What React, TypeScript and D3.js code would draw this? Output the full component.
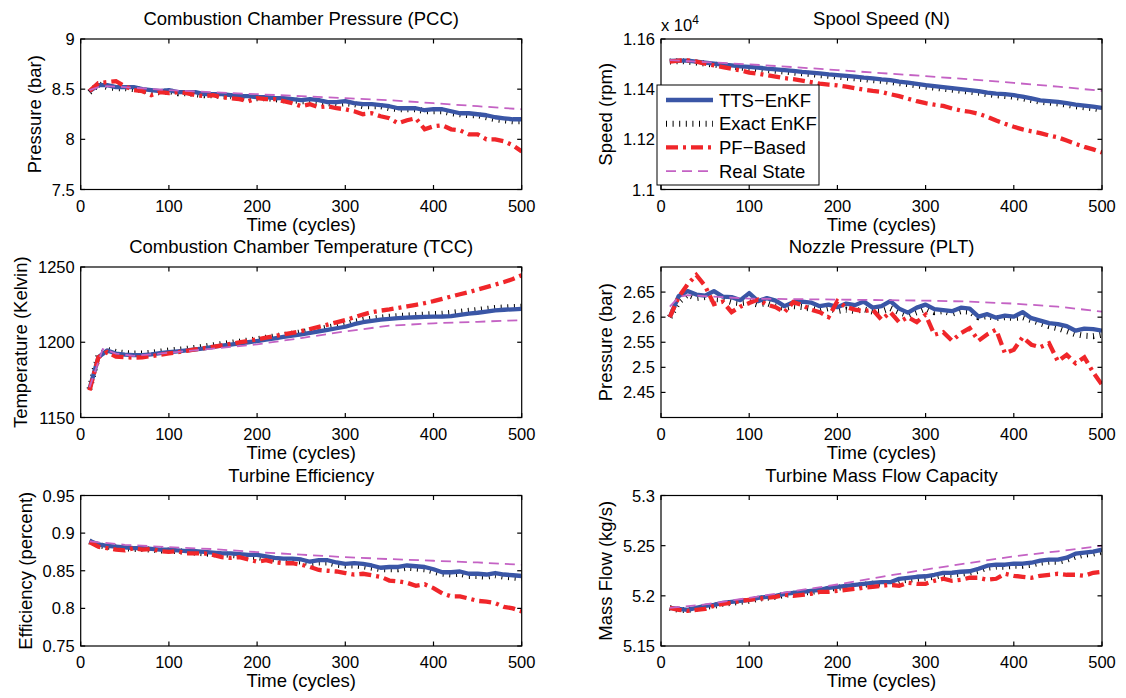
import React, { useRef, useEffect } from 'react';
import * as d3 from 'd3';

// time grid shared by the estimator traces (cycles)
const cycles = [10, 20, 30, 40, 50, 60, 70, 80, 90, 100, 110, 120, 130, 140, 150, 160, 170, 180, 190, 200,
  210, 220, 230, 240, 250, 260, 270, 280, 290, 300, 310, 320, 330, 340, 350, 360, 370, 380, 390, 400,
  410, 420, 430, 440, 450, 460, 470, 480, 490, 500];

const xTicks = [0, 100, 200, 300, 400, 500];
const legendNames = ['TTS\u2212EnKF', 'Exact EnKF', 'PF\u2212Based', 'Real State'];

// Combustion chamber pressure (bar)
const pccTts = [8.48, 8.54, 8.54, 8.52, 8.52, 8.52, 8.50, 8.49, 8.48, 8.49, 8.47, 8.47, 8.47, 8.45, 8.45, 8.45, 8.44, 8.43, 8.43, 8.42,
  8.42, 8.41, 8.41, 8.40, 8.39, 8.40, 8.39, 8.37, 8.37, 8.38, 8.36, 8.35, 8.35, 8.34, 8.33, 8.31, 8.31, 8.31, 8.29, 8.30,
  8.30, 8.28, 8.26, 8.26, 8.25, 8.24, 8.22, 8.21, 8.20, 8.20];
const pccExact = [8.47, 8.55, 8.52, 8.51, 8.51, 8.50, 8.49, 8.47, 8.47, 8.48, 8.46, 8.46, 8.45, 8.44, 8.44, 8.43, 8.43, 8.42, 8.41, 8.41,
  8.41, 8.40, 8.39, 8.39, 8.38, 8.38, 8.37, 8.36, 8.35, 8.36, 8.35, 8.33, 8.33, 8.33, 8.31, 8.30, 8.30, 8.30, 8.28, 8.28,
  8.28, 8.26, 8.25, 8.24, 8.24, 8.22, 8.20, 8.19, 8.18, 8.18];
const pccPf = [8.48, 8.56, 8.57, 8.58, 8.53, 8.49, 8.48, 8.44, 8.47, 8.46, 8.47, 8.46, 8.44, 8.43, 8.44, 8.42, 8.41, 8.40, 8.38, 8.41,
  8.40, 8.40, 8.38, 8.36, 8.33, 8.35, 8.32, 8.33, 8.31, 8.30, 8.28, 8.25, 8.26, 8.23, 8.21, 8.16, 8.19, 8.21, 8.10, 8.13,
  8.14, 8.10, 8.09, 8.05, 8.05, 8.00, 8.00, 7.98, 7.94, 7.88];
const pccRealCycles = [10, 20, 30, 50, 100, 150, 200, 250, 300, 350, 400, 450, 500];
const pccReal = [8.49, 8.52, 8.53, 8.52, 8.49, 8.47, 8.45, 8.43, 8.41, 8.39, 8.36, 8.33, 8.30];

// Spool speed (rpm)
const spoolTts = [11513, 11514, 11514, 11510, 11506, 11502, 11498, 11495, 11491, 11489, 11486, 11482, 11479, 11476, 11473, 11469, 11466, 11463, 11459, 11456,
  11453, 11450, 11446, 11443, 11439, 11436, 11430, 11426, 11421, 11416, 11412, 11408, 11404, 11400, 11396, 11392, 11386, 11382, 11380, 11376,
  11370, 11363, 11355, 11352, 11349, 11344, 11338, 11334, 11330, 11325];
const spoolExact = [11510, 11512, 11510, 11506, 11502, 11498, 11494, 11490, 11486, 11483, 11480, 11476, 11473, 11470, 11466, 11463, 11460, 11456, 11453, 11450,
  11446, 11443, 11440, 11436, 11433, 11429, 11424, 11420, 11415, 11410, 11406, 11402, 11398, 11394, 11390, 11386, 11380, 11376, 11373, 11370,
  11364, 11357, 11350, 11346, 11343, 11338, 11332, 11328, 11324, 11318];
const spoolPf = [11510, 11514, 11515, 11510, 11502, 11495, 11488, 11481, 11475, 11466, 11462, 11456, 11450, 11444, 11440, 11434, 11428, 11422, 11418, 11415,
  11410, 11404, 11398, 11393, 11389, 11380, 11372, 11362, 11352, 11344, 11338, 11333, 11323, 11315, 11310, 11302, 11290, 11275, 11262, 11250,
  11240, 11232, 11225, 11215, 11208, 11195, 11182, 11170, 11160, 11148];
const spoolRealCycles = [10, 50, 100, 150, 200, 250, 300, 350, 400, 450, 500];
const spoolReal = [11516, 11508, 11499, 11488, 11476, 11464, 11452, 11439, 11425, 11410, 11393];

// Combustion chamber temperature (K)
const tccTts = [1169, 1190, 1194.5, 1192.5, 1191.8, 1191.5, 1191.5, 1192, 1192.8, 1193.5, 1194, 1194.6, 1195.2, 1196, 1197, 1197.7, 1198.4, 1199.2, 1200, 1200.8,
  1201.7, 1202.6, 1203.5, 1204.4, 1205.2, 1206.2, 1207.3, 1208.3, 1209.3, 1210.3, 1212, 1213.3, 1214.2, 1215, 1215.6, 1216, 1216.3, 1216.6, 1216.8, 1217,
  1217.1, 1217.4, 1218.2, 1219, 1219.6, 1220.4, 1221.2, 1221.6, 1221.9, 1222.2];
const tccExact = [1169, 1191, 1195, 1193.5, 1192.8, 1192.5, 1192.6, 1193, 1193.8, 1194.5, 1195, 1195.6, 1196.3, 1197.1, 1198, 1198.8, 1199.6, 1200.4, 1201.2, 1202,
  1203, 1203.9, 1204.8, 1205.7, 1206.6, 1207.6, 1208.7, 1209.8, 1210.9, 1212, 1213.6, 1214.8, 1215.7, 1216.4, 1217, 1217.4, 1217.8, 1218.1, 1218.4, 1218.7,
  1219, 1219.5, 1220.2, 1220.9, 1221.5, 1222.2, 1222.8, 1223.1, 1223.4, 1223.6];
const tccPf = [1168, 1190, 1193.5, 1190.5, 1190, 1189.8, 1190, 1190.8, 1191.7, 1192.6, 1193.4, 1194.3, 1195.2, 1196.1, 1197, 1198, 1198.9, 1199.9, 1200.9, 1201.9,
  1203, 1204.1, 1205.2, 1206.3, 1207.4, 1208.8, 1210.2, 1211.7, 1213.2, 1214.7, 1216.6, 1218.4, 1220, 1221, 1221.8, 1222.8, 1223.8, 1224.9, 1226, 1227.3,
  1228.8, 1230.4, 1231.9, 1233.3, 1235, 1236.6, 1238.3, 1240, 1242, 1244.5];
const tccRealCycles = [10, 25, 40, 60, 100, 150, 200, 250, 300, 350, 400, 450, 500];
const tccReal = [1170, 1195.5, 1192.5, 1191, 1193, 1195.8, 1198.6, 1202.8, 1207.2, 1211, 1212.6, 1213.6, 1214.7];

// Nozzle pressure (bar)
const pltTts = [2.600, 2.642, 2.652, 2.645, 2.643, 2.652, 2.641, 2.640, 2.634, 2.648, 2.632, 2.638, 2.633, 2.622, 2.630, 2.631, 2.629, 2.622, 2.625, 2.620,
  2.627, 2.624, 2.631, 2.619, 2.622, 2.632, 2.617, 2.609, 2.619, 2.625, 2.616, 2.614, 2.612, 2.619, 2.617, 2.601, 2.606, 2.599, 2.603, 2.601,
  2.610, 2.598, 2.593, 2.588, 2.586, 2.582, 2.573, 2.577, 2.576, 2.573];
const pltExact = [2.600, 2.630, 2.645, 2.638, 2.640, 2.636, 2.635, 2.630, 2.628, 2.630, 2.625, 2.628, 2.622, 2.618, 2.622, 2.620, 2.617, 2.614, 2.618, 2.612,
  2.615, 2.612, 2.616, 2.611, 2.612, 2.618, 2.610, 2.604, 2.610, 2.617, 2.610, 2.612, 2.607, 2.612, 2.611, 2.600, 2.602, 2.598, 2.600, 2.598,
  2.600, 2.594, 2.588, 2.582, 2.578, 2.572, 2.566, 2.563, 2.562, 2.565];
const pltPf = [2.600, 2.640, 2.665, 2.684, 2.662, 2.626, 2.631, 2.610, 2.621, 2.628, 2.635, 2.625, 2.620, 2.610, 2.630, 2.624, 2.615, 2.610, 2.600, 2.632,
  2.620, 2.615, 2.612, 2.615, 2.595, 2.610, 2.590, 2.600, 2.590, 2.605, 2.565, 2.570, 2.553, 2.568, 2.578, 2.553, 2.566, 2.575, 2.528, 2.535,
  2.560, 2.545, 2.540, 2.548, 2.512, 2.525, 2.508, 2.520, 2.490, 2.465];
const pltRealCycles = [10, 20, 30, 50, 100, 150, 200, 250, 300, 350, 400, 450, 500];
const pltReal = [2.621, 2.640, 2.644, 2.642, 2.637, 2.636, 2.635, 2.634, 2.633, 2.631, 2.627, 2.621, 2.611];

// Turbine efficiency
const effTts = [0.890, 0.885, 0.883, 0.882, 0.881, 0.880, 0.880, 0.879, 0.878, 0.878, 0.877, 0.876, 0.876, 0.875, 0.874, 0.873, 0.873, 0.872, 0.871, 0.871,
  0.869, 0.867, 0.866, 0.866, 0.865, 0.862, 0.864, 0.864, 0.861, 0.859, 0.860, 0.859, 0.857, 0.854, 0.855, 0.855, 0.857, 0.856, 0.855, 0.852,
  0.848, 0.848, 0.849, 0.846, 0.846, 0.845, 0.847, 0.845, 0.844, 0.843];
const effExact = [0.889, 0.884, 0.882, 0.881, 0.880, 0.879, 0.879, 0.878, 0.877, 0.877, 0.876, 0.875, 0.874, 0.873, 0.872, 0.872, 0.871, 0.870, 0.869, 0.868,
  0.866, 0.865, 0.864, 0.863, 0.862, 0.860, 0.861, 0.861, 0.858, 0.857, 0.857, 0.856, 0.854, 0.852, 0.852, 0.852, 0.854, 0.853, 0.852, 0.849,
  0.846, 0.845, 0.846, 0.843, 0.843, 0.842, 0.844, 0.842, 0.841, 0.840];
const effPf = [0.888, 0.882, 0.880, 0.878, 0.877, 0.880, 0.878, 0.879, 0.876, 0.875, 0.876, 0.873, 0.873, 0.873, 0.871, 0.868, 0.867, 0.868, 0.865, 0.862,
  0.864, 0.861, 0.860, 0.860, 0.858, 0.855, 0.851, 0.850, 0.849, 0.847, 0.845, 0.846, 0.844, 0.842, 0.837, 0.836, 0.834, 0.830, 0.832, 0.827,
  0.820, 0.816, 0.816, 0.813, 0.810, 0.809, 0.807, 0.802, 0.800, 0.796];
const effRealCycles = [10, 50, 100, 150, 200, 250, 300, 350, 400, 450, 500];
const effReal = [0.889, 0.8845, 0.8814, 0.8788, 0.8748, 0.8714, 0.8681, 0.8655, 0.8633, 0.861, 0.858];

// Turbine mass flow capacity (kg/s)
const mfTts = [5.188, 5.187, 5.186, 5.188, 5.190, 5.191, 5.193, 5.194, 5.195, 5.196, 5.198, 5.199, 5.200, 5.202, 5.203, 5.204, 5.205, 5.206, 5.208, 5.209,
  5.210, 5.211, 5.212, 5.213, 5.2136, 5.2136, 5.217, 5.218, 5.219, 5.2195, 5.221, 5.2228, 5.223, 5.224, 5.2245, 5.227, 5.230, 5.231, 5.231, 5.232,
  5.232, 5.233, 5.235, 5.236, 5.236, 5.238, 5.242, 5.243, 5.244, 5.246];
const mfExact = [5.188, 5.186, 5.186, 5.187, 5.189, 5.190, 5.192, 5.193, 5.194, 5.195, 5.197, 5.198, 5.199, 5.201, 5.202, 5.203, 5.204, 5.205, 5.207, 5.208,
  5.209, 5.210, 5.211, 5.212, 5.212, 5.212, 5.215, 5.216, 5.217, 5.218, 5.219, 5.221, 5.221, 5.222, 5.223, 5.225, 5.228, 5.229, 5.229, 5.230,
  5.230, 5.231, 5.233, 5.234, 5.234, 5.236, 5.239, 5.241, 5.242, 5.244];
const mfPf = [5.188, 5.186, 5.185, 5.186, 5.187, 5.190, 5.192, 5.193, 5.195, 5.196, 5.197, 5.198, 5.199, 5.201, 5.200, 5.201, 5.202, 5.204, 5.204, 5.205,
  5.206, 5.207, 5.208, 5.209, 5.210, 5.211, 5.210, 5.213, 5.212, 5.212, 5.215, 5.217, 5.215, 5.216, 5.218, 5.218, 5.216, 5.217, 5.222, 5.220,
  5.219, 5.218, 5.220, 5.221, 5.222, 5.221, 5.221, 5.220, 5.223, 5.224];
const mfRealCycles = [10, 50, 100, 150, 200, 250, 300, 350, 400, 450, 500];
const mfReal = [5.188, 5.1914, 5.198, 5.2046, 5.2113, 5.2189, 5.2262, 5.2328, 5.2394, 5.2444, 5.25];

const FONT = 'Liberation Sans, Arial, Helvetica, sans-serif';
const colors = { tts: '#3a56a6', exact: '#000000', pf: '#f0262a', real: '#c462c4' };

const App = () => {
  const svgRef = useRef(null);

  useEffect(() => {
    const width = 1126;
    const height = 698;
    const colX = [80.7, 661];
    const rowY = [39, 267, 495.5];
    const pw = 441;
    const ph = 150.5;

    const svg = d3.select(svgRef.current)
      .attr('width', width)
      .attr('height', height);
    svg.selectAll('*').remove();

    const fmt = (d) => String(d);
    const panels = [
      { title: 'Combustion Chamber Pressure (PCC)', ylabel: 'Pressure (bar)', domain: [7.5, 9], ticks: [7.5, 8, 8.5, 9], fmt,
        tts: pccTts, exact: pccExact, pf: pccPf, realT: pccRealCycles, real: pccReal },
      { title: 'Spool Speed (N)', ylabel: 'Speed (rpm)', domain: [11000, 11600], ticks: [11000, 11200, 11400, 11600],
        fmt: (d) => String(+(d / 1e4).toFixed(2)),
        tts: spoolTts, exact: spoolExact, pf: spoolPf, realT: spoolRealCycles, real: spoolReal },
      { title: 'Combustion Chamber Temperature (TCC)', ylabel: 'Temperature (Kelvin)', domain: [1150, 1250], ticks: [1150, 1200, 1250], fmt,
        tts: tccTts, exact: tccExact, pf: tccPf, realT: tccRealCycles, real: tccReal },
      { title: 'Nozzle Pressure (PLT)', ylabel: 'Pressure (bar)', domain: [2.4, 2.7], ticks: [2.45, 2.5, 2.55, 2.6, 2.65], fmt,
        tts: pltTts, exact: pltExact, pf: pltPf, realT: pltRealCycles, real: pltReal },
      { title: 'Turbine Efficiency', ylabel: 'Efficiency (percent)', domain: [0.75, 0.95], ticks: [0.75, 0.8, 0.85, 0.9, 0.95], fmt,
        tts: effTts, exact: effExact, pf: effPf, realT: effRealCycles, real: effReal },
      { title: 'Turbine Mass Flow Capacity', ylabel: 'Mass Flow (kg/s)', domain: [5.15, 5.3], ticks: [5.15, 5.2, 5.25, 5.3], fmt,
        tts: mfTts, exact: mfExact, pf: mfPf, realT: mfRealCycles, real: mfReal },
    ];

    panels.forEach((p, i) => {
      const left = colX[i % 2];
      const top = rowY[Math.floor(i / 2)];
      const x = d3.scaleLinear().domain([0, 500]).range([left, left + pw]);
      const y = d3.scaleLinear().domain(p.domain).range([top + ph, top]);

      const g = svg.append('g');
      const clipId = `clip${i}`;
      g.append('clipPath').attr('id', clipId)
        .append('rect').attr('x', left).attr('y', top).attr('width', pw).attr('height', ph);

      const line = d3.line()
        .x((d) => x(d[0]))
        .y((d) => y(d[1]));

      const plot = g.append('g').attr('clip-path', `url(#${clipId})`);
      const zip = (t, v) => t.map((c, k) => [c, v[k]]);

      plot.append('path').datum(zip(cycles, p.exact))
        .attr('fill', 'none').attr('stroke', colors.exact).attr('stroke-width', 6)
        .attr('stroke-dasharray', '1 5.6').attr('d', line);
      plot.append('path').datum(zip(cycles, p.tts))
        .attr('fill', 'none').attr('stroke', colors.tts).attr('stroke-width', 4.3)
        .attr('stroke-linejoin', 'round').attr('d', line);
      plot.append('path').datum(zip(cycles, p.pf))
        .attr('fill', 'none').attr('stroke', colors.pf).attr('stroke-width', 4.3)
        .attr('stroke-dasharray', '12 5 3 5').attr('d', line);
      plot.append('path').datum(zip(p.realT, p.real))
        .attr('fill', 'none').attr('stroke', colors.real).attr('stroke-width', 1.8)
        .attr('stroke-dasharray', '10 6').attr('d', line);

      // axes box with inward ticks on all sides
      const tl = 4.5;
      const ax = g.append('g').attr('stroke', '#000').attr('stroke-width', 1.2);
      ax.append('rect').attr('x', left).attr('y', top).attr('width', pw).attr('height', ph).attr('fill', 'none');
      xTicks.forEach((t) => {
        ax.append('line').attr('x1', x(t)).attr('x2', x(t)).attr('y1', top + ph).attr('y2', top + ph - tl);
        ax.append('line').attr('x1', x(t)).attr('x2', x(t)).attr('y1', top).attr('y2', top + tl);
      });
      p.ticks.forEach((t) => {
        ax.append('line').attr('x1', left).attr('x2', left + tl).attr('y1', y(t)).attr('y2', y(t));
        ax.append('line').attr('x1', left + pw).attr('x2', left + pw - tl).attr('y1', y(t)).attr('y2', y(t));
      });

      const tg = g.append('g').attr('font-family', FONT).attr('font-size', 16.5).attr('fill', '#000');
      xTicks.forEach((t) => {
        tg.append('text').attr('x', x(t)).attr('y', top + ph + 22).attr('text-anchor', 'middle').text(t);
      });
      const yLabels = p.ticks.map((t) =>
        tg.append('text').attr('x', left - 6).attr('y', y(t) + 6).attr('text-anchor', 'end').text(p.fmt(t)));
      let minX = left - 6;
      yLabels.forEach((s) => {
        const b = s.node().getBBox();
        minX = Math.min(minX, b.x);
      });

      const lg = g.append('g').attr('font-family', FONT).attr('font-size', 18.5).attr('fill', '#000');
      lg.append('text').attr('x', left + pw / 2).attr('y', top - 14).attr('text-anchor', 'middle').text(p.title);
      lg.append('text').attr('x', left + pw / 2).attr('y', top + ph + 41).attr('text-anchor', 'middle').text('Time (cycles)');
      lg.append('text')
        .attr('transform', `translate(${minX - 11},${top + ph / 2}) rotate(-90)`)
        .attr('text-anchor', 'middle').text(p.ylabel);

      if (i === 1) {
        const ex = tg.append('text').attr('x', left).attr('y', top - 8);
        ex.append('tspan').text('x 10');
        ex.append('tspan').attr('font-size', 12).attr('dy', -7).text('4');

        // legend
        const lx = 657;
        const ly = 85;
        const leg = g.append('g');
        leg.append('rect').attr('x', lx).attr('y', ly).attr('width', 162).attr('height', 100)
          .attr('fill', '#fff').attr('stroke', '#000').attr('stroke-width', 1);
        const styles = [
          { stroke: colors.tts, w: 4.3, dash: null },
          { stroke: colors.exact, w: 6, dash: '1 5.6' },
          { stroke: colors.pf, w: 4.3, dash: '12 5 3 5' },
          { stroke: colors.real, w: 1.8, dash: '10 6' },
        ];
        legendNames.forEach((name, k) => {
          const cy = ly + 15 + k * 23.7;
          const s = styles[k];
          const l = leg.append('line').attr('x1', lx + 9).attr('x2', lx + 56).attr('y1', cy).attr('y2', cy)
            .attr('stroke', s.stroke).attr('stroke-width', s.w);
          if (s.dash) l.attr('stroke-dasharray', s.dash);
          leg.append('text').attr('x', lx + 62).attr('y', cy + 6.5)
            .attr('font-family', FONT).attr('font-size', 18.5).text(name);
        });
      }
    });
  }, []);

  return (
    <svg ref={svgRef} style={{ position: 'absolute', left: 0, top: 0, background: '#fff' }}></svg>
  );
};

export default App;
